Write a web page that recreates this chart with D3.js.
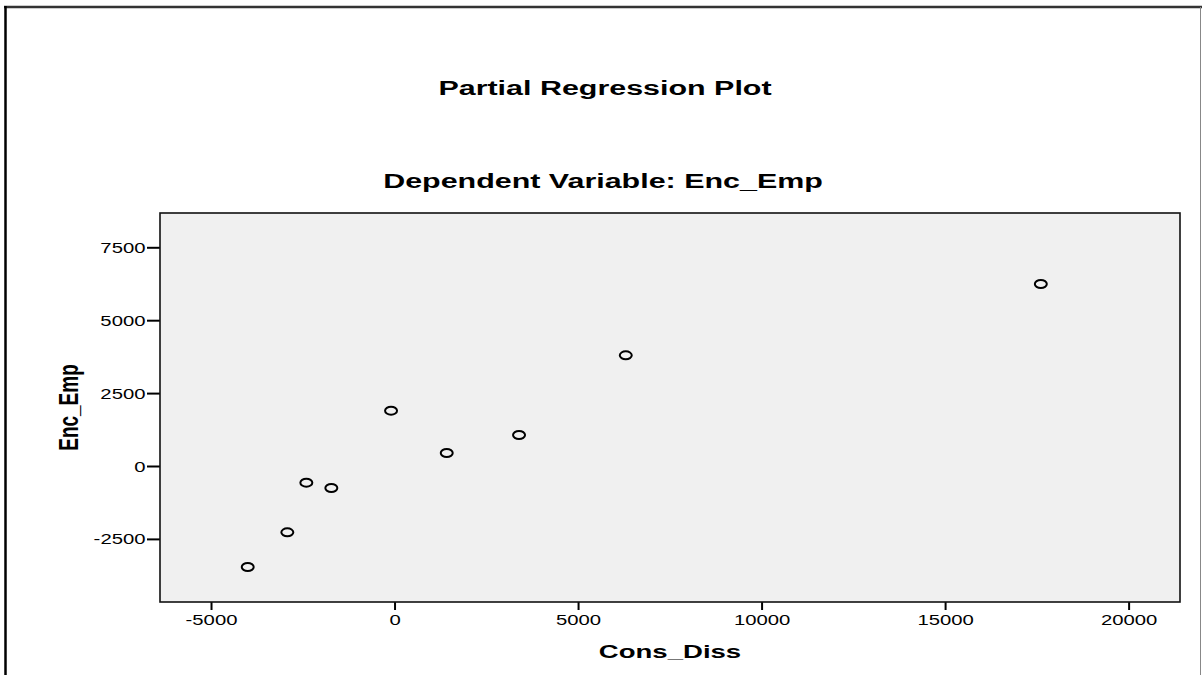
<!DOCTYPE html>
<html>
<head>
<meta charset="utf-8">
<script src="https://cdn.jsdelivr.net/npm/d3@7"></script>
<style>
  html, body { margin: 0; padding: 0; background: #fff; }
  svg { display: block; }
  text { font-family: "Liberation Sans", Arial, sans-serif; fill: #000; }
</style>
</head>
<body>
<svg id="chart" width="1202" height="675"></svg>
<script>
// Partial regression residuals: Cons_Diss (x) against Enc_Emp (y)
const consDiss = [-95, 3392, 1422, -2403, -1722, -2921, -4000, 17608, 6300];
const encEmp   = [1896, 1063, 446, -573, -754, -2274, -3464, 6241, 3796];

const xTicks = [-5000, 0, 5000, 10000, 15000, 20000];
const yTicks = [-2500, 0, 2500, 5000, 7500];

const chartTitle = "Partial Regression Plot";
const chartSubtitle = "Dependent Variable: Enc_Emp";
const xLabel = "Cons_Diss";
const yLabel = "Enc_Emp";

// Horizontal stretch applied to glyphs and markers
const SX = 1.45;

const svg = d3.select("#chart");
const plot = { left: 160, right: 1180, top: 213, bottom: 602 };

const x = d3.scaleLinear().domain([-6390, 21400]).range([plot.left, plot.right]);
const y = d3.scaleLinear().domain([-4664, 8676]).range([plot.bottom, plot.top]);

// Plain integer labels with an ASCII hyphen for negatives
const fmt = d => String(d);

// Page frame
svg.append("line").attr("x1", 4).attr("x2", 1202).attr("y1", 7).attr("y2", 7)
  .attr("stroke", "#333").attr("stroke-width", 2.5);
svg.append("line").attr("x1", 5.5).attr("x2", 5.5).attr("y1", 6).attr("y2", 675)
  .attr("stroke", "#000").attr("stroke-width", 2.5);
svg.append("line").attr("x1", 1200.5).attr("x2", 1200.5).attr("y1", 7).attr("y2", 675)
  .attr("stroke", "#888").attr("stroke-width", 1);

// Stretched text helper
function label(txt, cx, cy, size, weight, anchor, rotate) {
  const g = svg.append("g")
    .attr("transform", `translate(${cx},${cy}) scale(${SX},1)` + (rotate ? ` rotate(${rotate})` : ""));
  g.append("text")
    .attr("text-anchor", anchor)
    .style("font-size", size + "px")
    .style("font-weight", weight)
    .text(txt);
  return g;
}

label(chartTitle, 605, 95, 21, "bold", "middle");
label(chartSubtitle, 603, 188, 21, "bold", "middle");

// Plot background
svg.append("rect")
  .attr("x", plot.left).attr("y", plot.top)
  .attr("width", plot.right - plot.left).attr("height", plot.bottom - plot.top)
  .attr("fill", "#f0f0f0");

// Axes
const xAxis = svg.append("g")
  .attr("transform", `translate(0,${plot.bottom})`)
  .call(d3.axisBottom(x).tickValues(xTicks).tickFormat(fmt).tickSize(8).tickSizeOuter(0).tickPadding(0));
const yAxis = svg.append("g")
  .attr("transform", `translate(${plot.left},0)`)
  .call(d3.axisLeft(y).tickValues(yTicks).tickFormat(fmt).tickSize(13).tickSizeOuter(0).tickPadding(0));

[xAxis, yAxis].forEach(a => {
  a.select(".domain").remove();
  a.selectAll(".tick line").attr("stroke", "#000").attr("stroke-width", 2);
  a.selectAll(".tick text")
    .style("font-size", "14px")
    .style("font-family", "'Liberation Sans', Arial, sans-serif")
    .attr("fill", "#000");
});
xAxis.selectAll(".tick text")
  .attr("x", 0).attr("y", 23).attr("dy", null)
  .attr("transform", `scale(${SX},1)`);
yAxis.selectAll(".tick text")
  .attr("x", -14.5 / SX).attr("y", 5).attr("dy", null)
  .attr("transform", `scale(${SX},1)`);

// Plot frame
svg.append("rect")
  .attr("x", plot.left).attr("y", plot.top)
  .attr("width", plot.right - plot.left).attr("height", plot.bottom - plot.top)
  .attr("fill", "none").attr("stroke", "#111").attr("stroke-width", 1.6);

// Axis titles
label(xLabel, (plot.left + plot.right) / 2, 658, 19, "bold", "middle");
label(yLabel, 78, (plot.top + plot.bottom) / 2, 19, "bold", "middle", -90);

// Points
const pts = consDiss.map((v, i) => ({ x: v, y: encEmp[i] }));
svg.append("g").selectAll("ellipse")
  .data(pts)
  .join("ellipse")
  .attr("cx", d => x(d.x))
  .attr("cy", d => y(d.y))
  .attr("rx", 6)
  .attr("ry", 4)
  .attr("fill", "none")
  .attr("stroke", "#000")
  .attr("stroke-width", 2);
</script>
</body>
</html>
